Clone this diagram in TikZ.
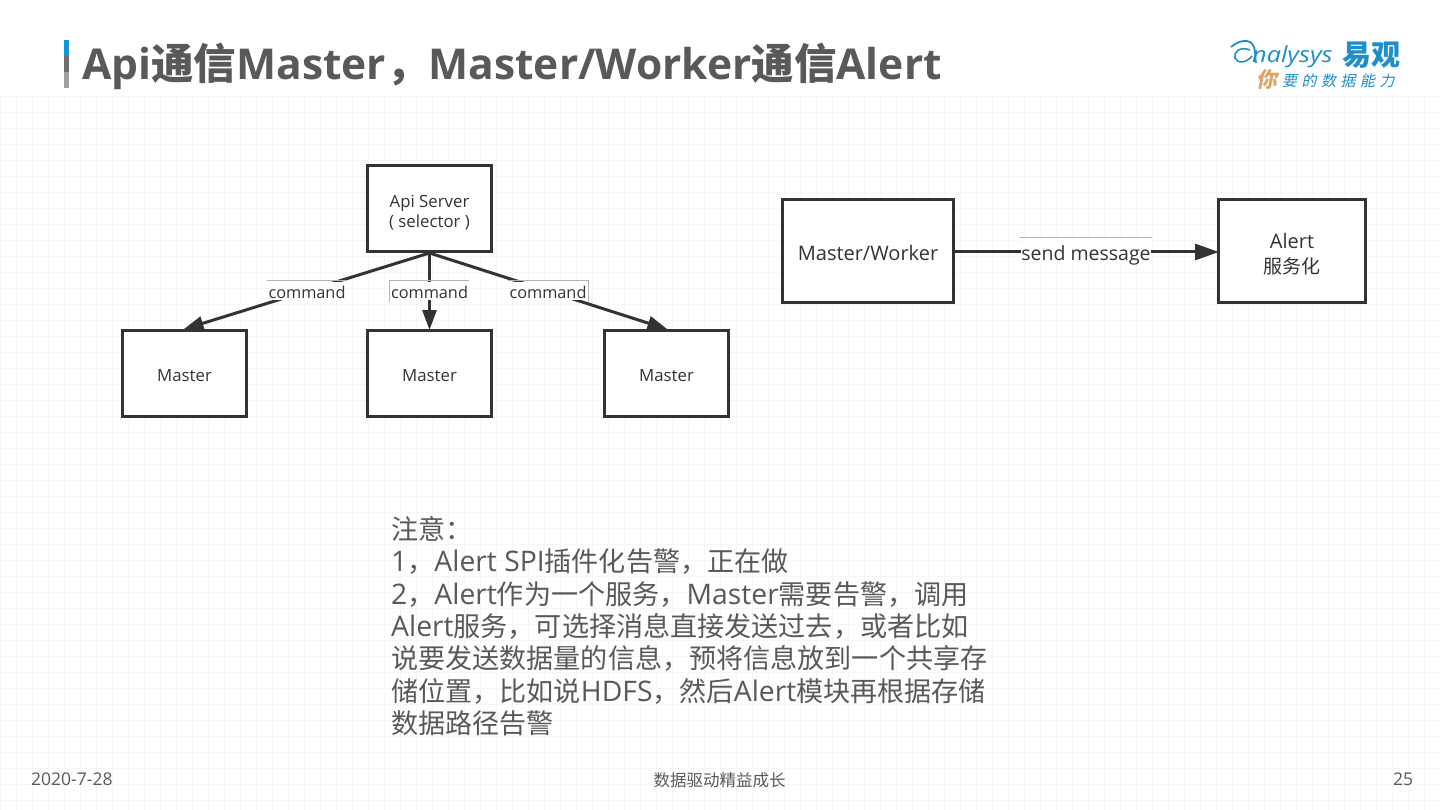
\documentclass[tikz,border=0pt]{standalone}
\usepackage{fontspec}
\setmainfont{Open Sans}
\newfontfamily\cjk{Noto Sans CJK SC}
\newfontfamily\cjklogo[FakeSlant=0.2,LetterSpace=30]{Noto Sans CJK SC}
\newcommand{\zh}[1]{{\cjk #1}}
\newcommand{\zn}[1]{{\fontsize{27.1}{32.4}\selectfont\cjk #1}}
\newcommand{\pad}[1]{\rule{0pt}{#1pt}}
\usepackage{xcolor}
\definecolor{ink}{HTML}{333333}
\definecolor{slidetext}{HTML}{595959}
\definecolor{gridline}{HTML}{F6F6F6}
\definecolor{brand}{HTML}{1E8FC8}
\definecolor{brandorange}{HTML}{E0A468}
\definecolor{barblue}{HTML}{1296DB}
\definecolor{barmid}{HTML}{6E6E6E}
\definecolor{barlight}{HTML}{9F9F9F}
\usetikzlibrary{positioning,arrows.meta}
\begin{document}
\begin{tikzpicture}[x=1pt,y=-1pt,
  box/.style={draw=ink,fill=white,line width=3pt,align=center,font=\fontsize{16.8}{20}\selectfont,text=ink,
              minimum width=124pt,minimum height=86pt,inner sep=0pt},
  bigbox/.style={box,minimum height=103pt,font=\fontsize{20}{25}\selectfont},
  arr/.style={-{Triangle[length=20pt,width=14pt]},color=ink,line width=3pt,shorten >=-1pt},
  lbl/.style={fill=white,text=ink,inner sep=0pt,font=\fontsize{16.3}{20}\selectfont,text height=17pt,text depth=1.5pt},
  tick/.style={draw=black!30,line width=0.6pt},
  footer/.style={text=slidetext,font=\fontsize{17.5}{20}\selectfont,inner sep=0pt}]
\useasboundingbox (0,0) rectangle (1440,810);
\fill[white] (0,0) rectangle (1440,810);
% faint paper grid
\foreach \i in {0,16,...,1440} \draw[gridline,line width=0.7pt] (\i,96) -- (\i,810);
\foreach \j in {96,112,...,810} \draw[gridline,line width=0.7pt] (0,\j) -- (1440,\j);
% title
\fill[barblue] (64,40) rectangle (69,56);
\fill[barmid] (64,56) rectangle (69,72);
\fill[barlight] (64,72) rectangle (69,88);
\node[anchor=west,inner sep=0pt,text=slidetext,font=\fontsize{42.5}{50}\selectfont\bfseries] (title) at (82,66)
  {Api\zh{通信}Master\zh{，}Master/Worker\zh{通信}Alert};
% logo
\node[anchor=base west,inner sep=0pt,text=brand,xscale=1.15,font=\fontsize{22}{24}\selectfont\itshape] (logoname) at (1252,63) {nalysys};
\node[anchor=west,inner sep=0pt,text=brand,font=\fontsize{29}{30}\selectfont\bfseries] (logocn) at (1342,55) {\zh{易观}};
\node[anchor=west,inner sep=0pt,text=brandorange,font=\fontsize{21}{24}\selectfont\bfseries\cjklogo] (logoni) at (1256,80) {你};
\node[anchor=west,inner sep=0pt,text=brand,font=\fontsize{15}{18}\selectfont\cjklogo] (logotag) at (1282,81) {要的数据能力};
\draw[brand,line width=1.8pt] (1231,47) .. controls (1238,41) and (1250,37) .. (1254,47) .. controls (1256,53) and (1255,60) .. (1256,63);
\draw[brand,line width=1.6pt] (1250,50) .. controls (1240,46) and (1233,52) .. (1235,58) .. controls (1237,64) and (1247,63) .. (1252,56);
% left diagram
\node[box] (api) at (429.5,208.5) {\pad{20}Api Server\\( selector )};
\node[box] (m1) at (184.5,373.5) {\pad{16}Master};
\node[box] (m2) at (429.5,373.5) {\pad{16}Master};
\node[box] (m3) at (666.5,373.5) {\pad{16}Master};
\draw[arr] (api.south) -- node[lbl] (c1) {command} (m1.north);
\draw[arr] (api.south) -- node[lbl] (c2) {command} (m2.north);
\draw[arr] (api.south) -- node[lbl] (c3) {command} (m3.north);
\draw[tick] (c1.north west) -- (c1.north east);
\draw[tick] (c2.south west) -- (c2.north west) -- (c2.north east);
\draw[tick] (c3.north west) -- (c3.north east) -- (c3.south east);
% right diagram
\node[bigbox,minimum width=171pt] (mw) at (868,251) {\pad{19}Master/Worker};
\node[bigbox,minimum width=147pt] (alert) at (1292,251) {\pad{22}Alert\\\fontsize{19}{25}\selectfont\zh{服务化}};
\draw[arr,-{Triangle[length=24pt,width=16pt]},shorten >=-2pt] ([yshift=-1pt]mw.east) -- node[lbl,font=\fontsize{19.5}{22}\selectfont,text height=22pt,text depth=5pt] (msg) {send message} ([yshift=-1pt]alert.west);
\draw[tick] (msg.north west) -- (msg.north east);
% note
\node[anchor=north west,align=left,inner sep=0pt,text=slidetext,font=\fontsize{28.3}{32.4}\selectfont] (note) at (391,516)
  {\zn{注意：}\\
   1\zn{，}Alert SPI\zn{插件化告警，正在做}\\
   2\zn{，}Alert\zn{作为一个服务，}Master\zn{需要告警，调用}\\
   Alert\zn{服务，可选择消息直接发送过去，或者比如}\\
   \zn{说要发送数据量的信息，预将信息放到一个共享存}\\
   \zn{储位置，比如说}HDFS\zn{，然后}Alert\zn{模块再根据存储}\\
   \zn{数据路径告警}};
% footer
\node[footer,anchor=west] (date) at (31,779) {2020-7-28};
\node[footer,font=\fontsize{16.5}{20}\selectfont] (slogan) at (719.5,780) {\zh{数据驱动精益成长}};
\node[footer] (page) at (1403,779) {25};
\end{tikzpicture}
\end{document}
